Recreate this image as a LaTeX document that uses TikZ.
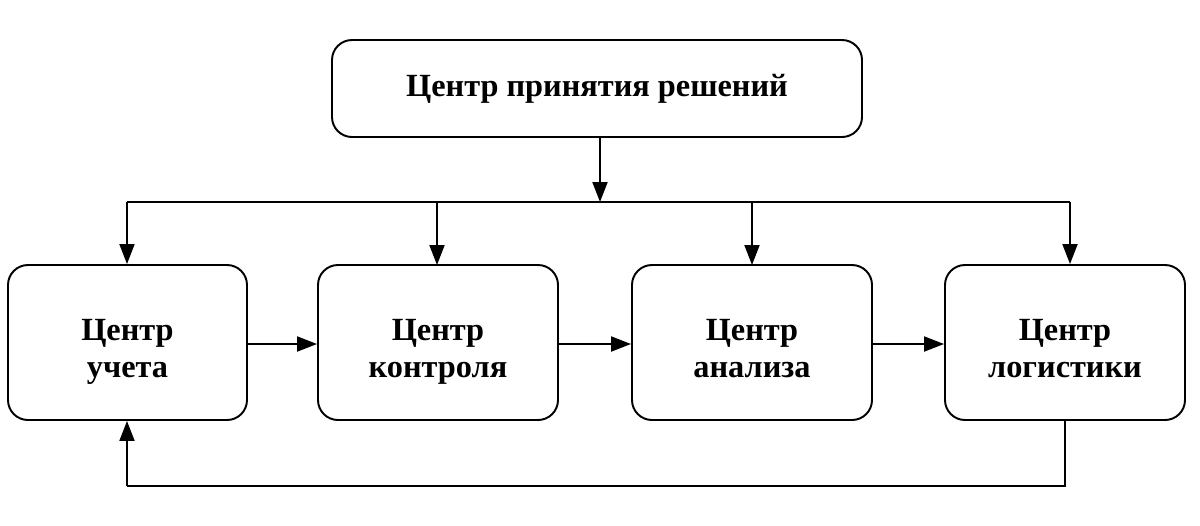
\documentclass[tikz,border=0pt]{standalone}
\usepackage{fontspec}
\setmainfont{Liberation Serif}
\usetikzlibrary{arrows.meta}
\begin{document}
\begin{tikzpicture}[x=0.02cm,y=-0.02cm,
  box/.style={draw,line width=1.1pt,rounded corners=0.4cm,inner sep=0pt},
  txt/.style={align=center,font=\fontsize{18.4}{21.5}\selectfont\bfseries,inner sep=0pt},
  conn/.style={line width=1.1pt},
  arr/.style={conn,-{Triangle[length=0.4cm,width=0.3cm]}}]
\useasboundingbox (0,0) rectangle (1200,525);
\node[box,minimum width=530*0.02cm,minimum height=97*0.02cm] (top) at (597,88.5) {};
\node[txt] (toptxt) at (597,88.5) {Центр принятия решений};
\node[box,minimum width=239*0.02cm,minimum height=155*0.02cm] (b1) at (127.5,342.5) {};
\node[box,minimum width=240*0.02cm,minimum height=155*0.02cm] (b2) at (438,342.5) {};
\node[box,minimum width=240*0.02cm,minimum height=155*0.02cm] (b3) at (752,342.5) {};
\node[box,minimum width=240*0.02cm,minimum height=155*0.02cm] (b4) at (1065,342.5) {};
\node[txt] (t1) at (127.5,351.5) {\strut Центр\\\strut учета};
\node[txt] (t2) at (438,351.5) {\strut Центр\\\strut контроля};
\node[txt] (t3) at (752,351.5) {\strut Центр\\\strut анализа};
\node[txt] (t4) at (1065,351.5) {\strut Центр\\\strut логистики};
\coordinate (j) at (600,202);
\coordinate (jl) at (127,202);
\coordinate (jr) at (1070,202);
\coordinate (fb) at (1065,486);
\coordinate (fa) at (127,486);
\draw[arr] (top.south -| j) -- (j);
\draw[conn] (jl) -- (jr);
\draw[arr] (jl) -- (jl |- b1.north);
\draw[arr] (437,202) -- (437,265);
\draw[arr] (752,202) -- (752,265);
\draw[arr] (jr) -- (jr |- b4.north);
\draw[arr] (b1.east |- 0,344) -- (b2.west |- 0,344);
\draw[arr] (b2.east |- 0,344) -- (b3.west |- 0,344);
\draw[arr] (b3.east |- 0,344) -- (b4.west |- 0,344);
\draw[conn] (b4.south -| fb) -- (fb) -- (fa);
\draw[arr] (fa) -- (fa |- b1.south);
\end{tikzpicture}
\end{document}
